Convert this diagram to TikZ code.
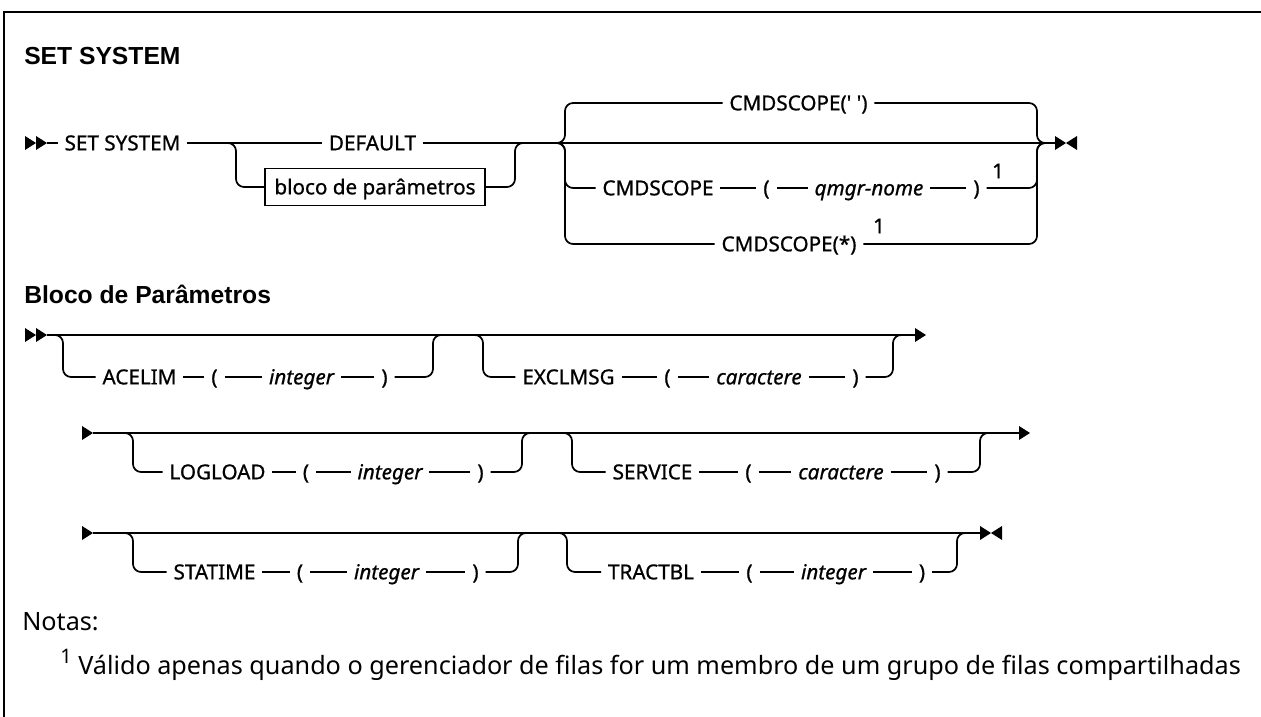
\documentclass[tikz,border=0pt]{standalone}
\usepackage{fontspec}
\setmainfont{Noto Sans}
\newfontfamily\ttlfont{Liberation Sans}
\newfontfamily\lblfont{Noto Sans}[FakeBold=0.8]
\newcommand\lblsize{\lblfont\fontsize{15.5}{18}\selectfont}
\begin{document}
\begin{tikzpicture}[x=0.75pt,y=-0.75pt,
  rr/.style={line width=1.3pt},
  rc/.style={rr, rounded corners=6pt},
  lbl/.style={font=\lblsize, inner xsep=5pt, inner ysep=0pt, text height=11pt, text depth=0pt},
  var/.style={lbl, font=\lblsize\itshape},
  sup/.style={font=\lblsize, inner sep=0pt},
  ttl/.style={font=\ttlfont\fontsize{18.5}{22}\selectfont\bfseries, anchor=west, inner sep=0pt, text height=13.3pt, text depth=0pt},
  note/.style={font=\fontsize{18.9}{22}\selectfont, anchor=west, inner sep=0pt},
  mk/.style={fill=black}]
\useasboundingbox (0,0) rectangle (1261,717);
\draw[line width=1.6pt] (4,717) -- (4,12) -- (1261,12);

% ---------- SET SYSTEM ----------
\node[ttl] (t1) at (24,56) {SET SYSTEM};

\fill[mk] (25,136) -- (36,143) -- (25,150) -- cycle;
\fill[mk] (36,136) -- (47,143) -- (36,150) -- cycle;
\coordinate (s1e) at (47,143);
\node[lbl] (set) at (122.5,143) {SET SYSTEM};
\node[lbl] (def) at (372.5,143) {DEFAULT};
\node[lbl, draw, line width=1.3pt, minimum width=165pt, minimum height=27.75pt, inner xsep=6pt] (blk) at (375,187) {bloco de parâmetros};
\coordinate (e1) at (1055,143);
\fill[mk] (1055,136) -- (1066,143) -- (1055,150) -- cycle;
\fill[mk] (1077,136) -- (1066,143) -- (1077,150) -- cycle;

\draw[rr] (s1e) -- (set.west);
\draw[rr] (set.east) -- (def.west);
\draw[rr] (def.east) -- (e1);
\coordinate (bA) at (236,143);
\coordinate (bB) at (515,143);
\draw[rc] (220,143) -- (bA) -- (bA |- blk) -- (blk.west);
\draw[rc] (blk.east) -- (bB |- blk) -- (bB) -- (531,143);

% CMDSCOPE choice
\node[lbl] (c1) at (798.5,103) {CMDSCOPE(\textquotesingle\ \textquotesingle)};
\node[lbl] (cs2) at (658,188) {CMDSCOPE};
\node[lbl] (lp2) at (766.5,188) {(};
\node[var] (qm) at (869,188) {qmgr-nome};
\node[lbl] (rp2) at (976.5,188) {)};
\node[sup] (n1a) at (998,171) {1};
\node[lbl] (c3) at (789,244) {CMDSCOPE(*)};
\node[sup] (n1b) at (879,226) {1};

\coordinate (jL) at (565,143);
\coordinate (jR) at (1037,143);
\draw[rc] (548,143) -- (jL) -- (jL |- c1) -- (c1.west);
\draw[rc] (548,143) -- (jL) -- (jL |- cs2) -- (cs2.west);
\draw[rc] (548,143) -- (jL) -- (jL |- c3) -- (c3.west);
\draw[rr] (cs2.east) -- (lp2.west);
\draw[rr] (lp2.east) -- (qm.west);
\draw[rr] (qm.east) -- (rp2.west);
\draw[rc] (c1.east) -- (jR |- c1) -- (jR) -- (1054,143);
\draw[rc] (rp2.east) -- (jR |- rp2) -- (jR) -- (1054,143);
\draw[rc] (c3.east) -- (jR |- c3) -- (jR) -- (1054,143);

% ---------- Bloco de Parametros ----------
\node[ttl] (t2) at (24,295) {Bloco de Parâmetros};

% row A
\fill[mk] (25,328) -- (36,335) -- (25,342) -- cycle;
\fill[mk] (36,328) -- (47,335) -- (36,342) -- cycle;
\coordinate (a0) at (47,335);
\coordinate (a9) at (916,335);
\fill[mk] (915,328) -- (926,335) -- (915,342) -- cycle;
\draw[rr] (a0) -- (a9);

\node[lbl] (ace) at (139.5,377) {ACELIM};
\node[lbl] (lpa) at (214.5,377) {(};
\node[var] (inta) at (301.5,377) {integer};
\node[lbl] (rpa) at (384.5,377) {)};
\coordinate (a1) at (63,335);
\coordinate (a2) at (433,335);
\draw[rc] (a0) -- (a1) -- (a1 |- ace) -- (ace.west);
\draw[rr] (ace.east) -- (lpa.west);
\draw[rr] (lpa.east) -- (inta.west);
\draw[rr] (inta.east) -- (rpa.west);
\draw[rc] (rpa.east) -- (a2 |- rpa) -- (a2) -- (448,335);

\node[lbl] (exc) at (568.5,377) {EXCLMSG};
\node[lbl] (lpe) at (667.5,377) {(};
\node[var] (car) at (759,377) {caractere};
\node[lbl] (rpe) at (855.5,377) {)};
\coordinate (a3) at (483,335);
\coordinate (a4) at (893,335);
\draw[rc] (468,335) -- (a3) -- (a3 |- exc) -- (exc.west);
\draw[rr] (exc.east) -- (lpe.west);
\draw[rr] (lpe.east) -- (car.west);
\draw[rr] (car.east) -- (rpe.west);
\draw[rc] (rpe.east) -- (a4 |- rpe) -- (a4) -- (908,335);

% row B
\fill[mk] (82,426) -- (93,433) -- (82,440) -- cycle;
\coordinate (b0) at (93,433);
\coordinate (b9) at (1020,433);
\fill[mk] (1019,426) -- (1030,433) -- (1019,440) -- cycle;
\draw[rr] (b0) -- (b9);

\node[lbl] (log) at (217.5,472) {LOGLOAD};
\node[lbl] (lpl) at (306,472) {(};
\node[var] (intl) at (390,472) {integer};
\node[lbl] (rpl) at (480.5,472) {)};
\coordinate (b1) at (133,433);
\coordinate (b2) at (522,433);
\draw[rc] (b0) -- (b1) -- (b1 |- log) -- (log.west);
\draw[rr] (log.east) -- (lpl.west);
\draw[rr] (lpl.east) -- (intl.west);
\draw[rr] (intl.east) -- (rpl.west);
\draw[rc] (rpl.east) -- (b2 |- rpl) -- (b2) -- (537,433);

\node[lbl] (srv) at (652.5,472) {SERVICE};
\node[lbl] (lpv) at (748.5,472) {(};
\node[var] (carv) at (841,472) {caractere};
\node[lbl] (rpv) at (937.5,472) {)};
\coordinate (b3) at (572,433);
\coordinate (b4) at (980,433);
\draw[rc] (557,433) -- (b3) -- (b3 |- srv) -- (srv.west);
\draw[rr] (srv.east) -- (lpv.west);
\draw[rr] (lpv.east) -- (carv.west);
\draw[rr] (carv.east) -- (rpv.west);
\draw[rc] (rpv.east) -- (b4 |- rpv) -- (b4) -- (995,433);

% row C
\fill[mk] (82,526) -- (93,533) -- (82,540) -- cycle;
\coordinate (c0) at (93,533);
\coordinate (c9) at (980,533);
\fill[mk] (980,526) -- (991,533) -- (980,540) -- cycle;
\fill[mk] (1002,526) -- (991,533) -- (1002,540) -- cycle;
\draw[rr] (c0) -- (c9);

\node[lbl] (sta) at (214.5,572) {STATIME};
\node[lbl] (lps) at (300,572) {(};
\node[var] (ints) at (386.5,572) {integer};
\node[lbl] (rps) at (475.5,572) {)};
\coordinate (cA) at (133,533);
\coordinate (cB) at (518,533);
\draw[rc] (c0) -- (cA) -- (cA |- sta) -- (sta.west);
\draw[rr] (sta.east) -- (lps.west);
\draw[rr] (lps.east) -- (ints.west);
\draw[rr] (ints.east) -- (rps.west);
\draw[rc] (rps.east) -- (cB |- rps) -- (cB) -- (533,533);

\node[lbl] (tra) at (651,572) {TRACTBL};
\node[lbl] (lpt) at (749.5,572) {(};
\node[var] (intt) at (833.5,572) {integer};
\node[lbl] (rpt) at (922,572) {)};
\coordinate (cC) at (567,533);
\coordinate (cD) at (957,533);
\draw[rc] (552,533) -- (cC) -- (cC |- tra) -- (tra.west);
\draw[rr] (tra.east) -- (lpt.west);
\draw[rr] (lpt.east) -- (intt.west);
\draw[rr] (intt.east) -- (rpt.west);
\draw[rc] (rpt.east) -- (cD |- rpt) -- (cD) -- (972,533);

% ---------- Notes ----------
\node[note] (nt) at (22,622) {Notas:};
\node[note] (fn) at (60,665) {\raisebox{0.42em}{\fontsize{15}{17}\selectfont 1} Válido apenas quando o gerenciador de filas for um membro de um grupo de filas compartilhadas};
\end{tikzpicture}
\end{document}
